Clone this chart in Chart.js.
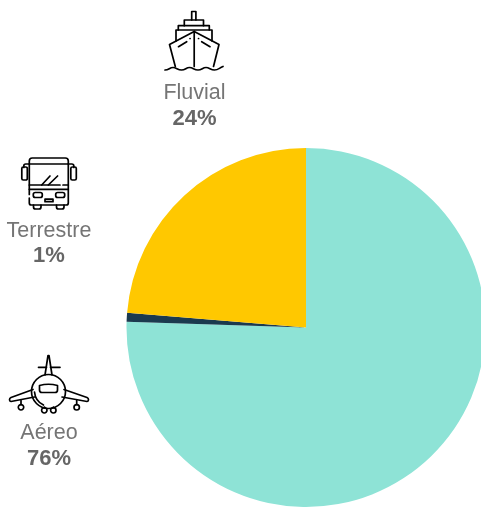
<!DOCTYPE html>
<html><head><meta charset="utf-8">
<script src="https://cdn.jsdelivr.net/npm/chart.js@4/dist/chart.umd.js"></script>
<style>html,body{margin:0;padding:0;background:#fff;overflow:hidden;width:481px;height:509px}
#w{position:relative;width:481px;height:509px;overflow:hidden}canvas{display:block}</style>
</head><body><div id="w"><canvas id="c" width="486" height="509"></canvas></div>
<script>
const categories = ["Aéreo", "Terrestre", "Fluvial"];
const sliceValues = [75.5, 0.8, 23.7];
const shownPercents = ["76%", "1%", "24%"];
const sliceColors = ["#8ee3d6", "#1b3a4f", "#ffc800"];

const iconPaths = {
  "Fluvial": [
    "M191.7 20V11.5h4.2V20","M184.3 25.700V20h19.200v5.700","M178.300 30V25.700h31V30","M176 41V30h36v11",
    "M194.200 31.500L169.500 44.500L175.300 66.500","M194.200 31.500L219 44.500L213.500 66.500","M194.200 31.500V66.500",
    "M178.500 46.700L186.700 41.700","M210 46.700L201.700 41.700","M190 38.500h.1M198.500 38.500h.1",
    "M165 70c4 0 4.500-2.500 8-2.500s4.500 2.500 8.500 2.500 4.500-2.500 8-2.500 4.500 2.500 8.500 2.500 4.500-2.500 8-2.500 4.500 2.500 8.500 2.500 4.500-2 8.500-3.500"
  ],
  "Terrestre": [
    "M29.300 194.500V161a3 3 0 0 1 3-3h33a3 3 0 0 1 3 3v42a2 2 0 0 1-2 2H31.300a2 2 0 0 1-2-2v-5",
    "M29.300 164H68.300","M29.300 185H60M63 185h5.300","M29.300 189.300H68.300",
    "M41.700 185l8.300-9M48.300 185l9.300-9",
    "M35.300 192.500h5a2 2 0 0 1 2 2v1a2 2 0 0 1-2 2h-5a2 2 0 0 1-2-2v-1a2 2 0 0 1 2-2z",
    "M57.700 192.500h5a2 2 0 0 1 2 2v1a2 2 0 0 1-2 2h-5a2 2 0 0 1-2-2v-1a2 2 0 0 1 2-2z",
    "M45 199.200h8v2.500H45z",
    "M33.500 205v2a2 2 0 0 0 2 2h3.500a2 2 0 0 0 2-2v-2M56.500 205v2a2 2 0 0 0 2 2h3.500a2 2 0 0 0 2-2v-2",
    "M29.300 164h-3.500a2 2 0 0 0-2 2v1.500M68.300 164h3.500a2 2 0 0 1 2 2v1.500",
    "M21.800 168.500a1.500 1.500 0 0 1 1.500-1.500h2.500a1.500 1.500 0 0 1 1.500 1.500v10a1.500 1.500 0 0 1-1.500 1.500h-2.500a1.500 1.500 0 0 1-1.500-1.500z",
    "M70.800 168.500a1.500 1.500 0 0 1 1.500-1.500h2.500a1.500 1.500 0 0 1 1.500 1.500v10a1.500 1.500 0 0 1-1.500 1.500h-2.500a1.500 1.500 0 0 1-1.500-1.500z"
  ],
  "Aéreo": [
    "M45 375L48 355.500h1L52 375","M38.500 367.300H46.500M50.500 367.300H60",
    "M65.500 391.500a17 17 0 1 1-34 0a17 17 0 1 1 34 0z",
    "M39.500 385.500c5.500-1.500 12.500-1.500 18 0v4.500c0 1.500-1 2.500-2.500 2.500H42c-1.500 0-2.500-1-2.500-2.500z",
    "M34.500 392c.5 5.500 3.500 10.500 9 13",
    "M33 389.500L11 397.500c-2 1-2 3.500 0 4L34.500 397","M64 389.500L87 397.500c2 1 2 3.500 0 4L62 397",
    "M21 400.500v4M76.700 400.500v4M44.500 407v.5M53.500 407v.5",
    "M23.700 407.300a2.700 2.700 0 1 1-5.400 0a2.700 2.700 0 1 1 5.400 0zM79.400 407.300a2.700 2.700 0 1 1-5.400 0a2.700 2.700 0 1 1 5.400 0z",
    "M47 410.300a2.700 2.700 0 1 1-5.400 0a2.700 2.700 0 1 1 5.400 0zM56 410.300a2.700 2.700 0 1 1-5.400 0a2.700 2.700 0 1 1 5.400 0z"
  ]
};
const labelCentres = { "Fluvial": 194.500, "Terrestre": 49, "Aéreo": 49 };
const labelBaselines = { "Fluvial": [99, 125], "Terrestre": [237, 262], "Aéreo": [439, 465] };

const decorations = {
  id: "decorations",
  afterDraw(chart) {
    const g = chart.ctx;
    g.save();
    g.strokeStyle = "#000"; g.lineWidth = 1.7; g.lineCap = "round"; g.lineJoin = "round";
    categories.forEach((name, i) => {
      iconPaths[name].forEach(d => g.stroke(new Path2D(d)));
      g.textAlign = "center"; g.textBaseline = "alphabetic";
      const [y1, y2] = labelBaselines[name];
      g.fillStyle = "#757575";
      g.font = '21.5px "Liberation Sans", Arial, sans-serif';
      g.fillText(name, labelCentres[name], y1);
      g.fillStyle = "#666";
      g.font = 'bold 22px "Liberation Sans", Arial, sans-serif';
      g.fillText(shownPercents[i], labelCentres[name], y2);
    });
    g.restore();
  }
};

new Chart(document.getElementById("c"), {
  type: "pie",
  data: { labels: categories, datasets: [{ data: sliceValues, backgroundColor: sliceColors, borderWidth: 0 }] },
  options: {
    responsive: false, animation: false, devicePixelRatio: 1,
    layout: { padding: { left: 126, top: 148, right: 0, bottom: 2 } },
    plugins: { legend: { display: false }, tooltip: { enabled: false } }
  },
  plugins: [decorations]
});
</script>
</body></html>
